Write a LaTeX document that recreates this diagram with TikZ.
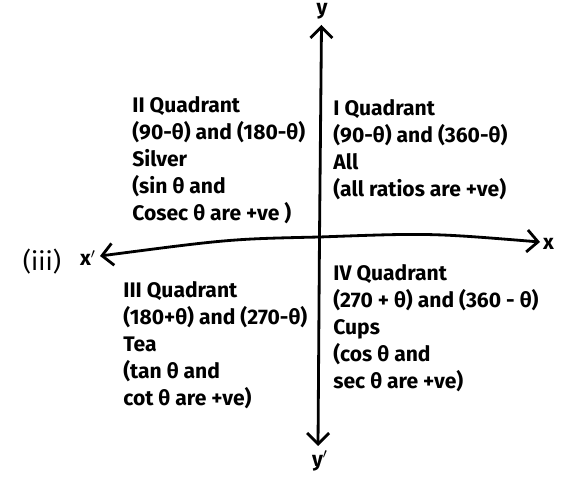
\documentclass[tikz,border=0pt]{standalone}
\usepackage{fontspec}
\setmainfont{Fira Sans}
\usetikzlibrary{arrows.meta}

\tikzset{
  axis/.style={line width=1.6pt, -{Straight Barb[length=2.2mm,width=4.4mm,line width=1.6pt]}},
  quad/.style={anchor=north west, align=left, font=\bfseries\fontsize{12}{15.4}\selectfont, inner sep=0pt},
  axlabel/.style={font=\bfseries\fontsize{12}{14}\selectfont, inner sep=0pt}
}

\begin{document}
\begin{tikzpicture}
    \useasboundingbox (0,0) rectangle (11.4,9.64);

    % Assi
    \coordinate (O) at (6.39,4.90);
    \coordinate (ytop) at (6.43,9.14);
    \coordinate (ybot) at (6.36,0.72);
    \coordinate (xleft) at (2.0,4.52);
    \coordinate (xright) at (10.8,4.80);
    \draw[axis] (O) -- (ytop);
    \draw[axis] (O) -- (ybot);
    \draw[axis] (O) .. controls (4.6,4.86) .. (xleft);
    \draw[axis] (O) .. controls (8.6,4.98) .. (xright);

    % Etichette degli assi
    \node[axlabel] (ylab) at (6.44,9.42) {y};
    \node[axlabel] (yplab) at (6.40,0.42) {y$'$};
    \node[axlabel] (xlab) at (10.97,4.77) {x};
    \node[axlabel] (xplab) at (1.76,4.48) {x$'$};
    \node[font=\fontsize{14.5}{16}\selectfont, inner sep=0pt] (num) at (0.84,4.40) {(iii)};

    % Quadranti
    \node[quad] (q2) at (2.64,7.72) {II Quadrant\\(90-θ) and (180-θ)\\Silver\\(sin θ and\\Cosec θ are +ve )};
    \node[quad] (q1) at (6.66,7.66) {I Quadrant\\(90-θ) and (360-θ)\\All\\(all ratios are +ve)};
    \node[quad] (q3) at (2.46,4.02) {III Quadrant\\(180+θ) and (270-θ)\\Tea\\(tan θ and\\cot θ are +ve)};
    \node[quad] (q4) at (6.66,4.36) {IV Quadrant\\(270 + θ) and (360 - θ)\\Cups\\(cos θ and\\sec θ are +ve)};
\end{tikzpicture}
\end{document}
